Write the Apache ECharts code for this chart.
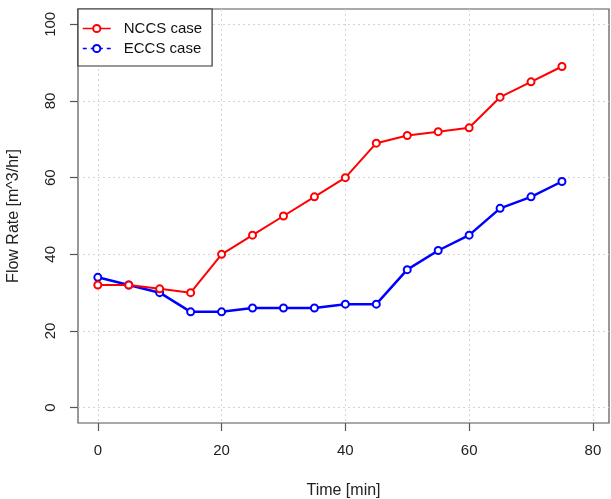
<!DOCTYPE html>
<html>
<head>
<meta charset="utf-8">
<script src="https://cdn.jsdelivr.net/npm/echarts@6/dist/echarts.min.js"></script>
<style>
  html, body { margin: 0; padding: 0; background: #fff; }
  #chart { width: 611px; height: 499px; }
</style>
</head>
<body>
<div id="chart"></div>
<script>
// 时间 (min)
var times = [0, 5, 10, 15, 20, 25, 30, 35, 40, 45, 50, 55, 60, 65, 70, 75];
// 流量
var nccsValues = [32, 32, 31, 30, 40, 45, 50, 55, 60, 69, 71, 72, 73, 81, 85, 89];
var eccsValues = [34, 32, 30, 25, 25, 26, 26, 26, 27, 27, 36, 41, 45, 52, 55, 59];
// 刻度
var xTicks = [0, 20, 40, 60, 80];
var yTicks = [0, 20, 40, 60, 80, 100];

function pairs(xs, ys) {
    return xs.map(function (x, i) { return [x, ys[i]]; });
}

var font = 'Liberation Sans, Arial, sans-serif';
var axisColor = '#555';

var chart = echarts.init(document.getElementById('chart'), null, { renderer: 'canvas' });

var option = {
    animation: false,
    backgroundColor: '#fff',
    textStyle: { fontFamily: font, color: '#222' },
    grid: {
        left: 78, top: 9, right: 2, bottom: 76,
        outerBoundsMode: 'none',
        containLabel: false,
        show: true,
        borderColor: axisColor,
        borderWidth: 1.2,
        backgroundColor: 'transparent'
    },
    legend: {
        orient: 'vertical',
        left: 78, top: 9,
        backgroundColor: '#fff',
        borderColor: '#333',
        borderWidth: 1.2,
        borderRadius: 0,
        padding: [12, 10, 10, 4],
        itemWidth: 28,
        itemHeight: 9,
        itemGap: 5,
        textStyle: { fontSize: 15, fontFamily: font, color: '#111', padding: [0, 0, 0, 8] },
        data: [
            { name: 'NCCS case', lineStyle: { type: 'solid', width: 1.5 } },
            { name: 'ECCS case', lineStyle: { type: [4, 4], width: 1.5 } }
        ]
    },
    xAxis: {
        type: 'value',
        min: -3.2, max: 82.6,
        name: 'Time [min]',
        nameLocation: 'middle',
        nameGap: 60,
        nameTextStyle: { fontSize: 16, fontFamily: font, color: '#222' },
        axisLine: { show: false, onZero: false },
        axisTick: { show: true, length: 8, customValues: xTicks, lineStyle: { color: axisColor, width: 1.2 } },
        axisLabel: { customValues: xTicks, margin: 20, fontSize: 15, fontFamily: font, color: '#222' },
        splitLine: { show: true, lineStyle: { color: '#d4d4d4', type: [2, 3], width: 1 } }
    },
    yAxis: {
        type: 'value',
        min: -4, max: 104,
        name: 'Flow Rate [m^3/hr]',
        nameLocation: 'middle',
        nameGap: 56,
        nameTextStyle: { fontSize: 16, fontFamily: font, color: '#222' },
        axisLine: { show: false, onZero: false },
        axisTick: { show: true, length: 8, customValues: yTicks, lineStyle: { color: axisColor, width: 1.2 } },
        axisLabel: { customValues: yTicks, rotate: 90, margin: 20, fontSize: 15, fontFamily: font, color: '#222' },
        splitLine: { show: true, lineStyle: { color: '#d4d4d4', type: [2, 3], width: 1 } }
    },
    series: [
        {
            name: 'NCCS case',
            type: 'line',
            data: pairs(times, nccsValues),
            color: '#ff0000',
            symbol: 'emptyCircle',
            symbolSize: 7,
            lineStyle: { width: 2, color: '#ff0000' },
            itemStyle: { color: '#ff0000', borderWidth: 1.5 },
            z: 3
        },
        {
            name: 'ECCS case',
            type: 'line',
            data: pairs(times, eccsValues),
            color: '#0000ff',
            symbol: 'emptyCircle',
            symbolSize: 7,
            lineStyle: { width: 2.5, color: '#0000ff' },
            itemStyle: { color: '#0000ff', borderWidth: 2 },
            z: 2
        }
    ]
};

chart.setOption(option);
</script>
</body>
</html>
